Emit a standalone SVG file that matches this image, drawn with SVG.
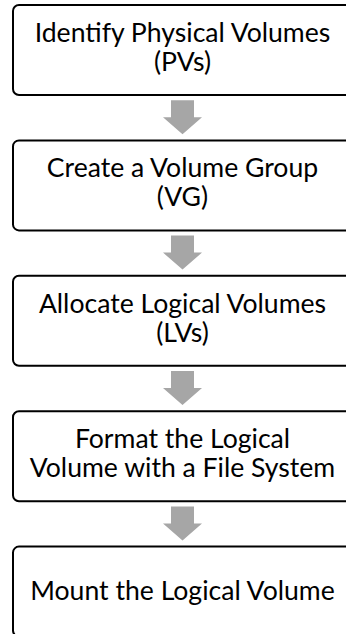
<svg xmlns="http://www.w3.org/2000/svg" width="346" height="634" viewBox="0 0 346 634">
  <style>
    .box { fill: #ffffff; stroke: #000000; stroke-width: 2; }
    .lbl { font-family: Lato, "Liberation Sans", sans-serif; font-size: 26.6px; fill: #000000; text-anchor: middle; }
    .arr { fill: #A6A6A6; stroke: none; }
  </style>
  <defs>
    <path id="downArrow" d="M171,0 H194 V17 H202 L182.5,34 L163,17 H171 Z"/>
  </defs>
  <rect x="0" y="0" width="346" height="634" fill="#ffffff"/>
  <g id="connectors">
    <use href="#downArrow" class="arr" transform="translate(0,100.2)"/>
    <use href="#downArrow" class="arr" transform="translate(0,235.6)"/>
    <use href="#downArrow" class="arr" transform="translate(0,371)"/>
    <use href="#downArrow" class="arr" transform="translate(0,506.4)"/>
  </g>
  <g id="node1">
    <rect class="box" x="13" y="5" width="339" height="90" rx="6"/>
    <text class="lbl" x="182.5" y="42">Identify Physical Volumes</text>
    <text class="lbl" x="182.5" y="71">(PVs)</text>
  </g>
  <g id="node2">
    <rect class="box" x="13" y="140.4" width="339" height="90" rx="6"/>
    <text class="lbl" x="182.5" y="177.4">Create a Volume Group</text>
    <text class="lbl" x="182.5" y="206.4">(VG)</text>
  </g>
  <g id="node3">
    <rect class="box" x="13" y="275.8" width="339" height="90" rx="6"/>
    <text class="lbl" x="182.5" y="312.8">Allocate Logical Volumes</text>
    <text class="lbl" x="182.5" y="341.8">(LVs)</text>
  </g>
  <g id="node4">
    <rect class="box" x="13" y="411.2" width="339" height="90" rx="6"/>
    <text class="lbl" x="182.5" y="448.2">Format the Logical</text>
    <text class="lbl" x="182.5" y="477.2">Volume with a File System</text>
  </g>
  <g id="node5">
    <rect class="box" x="13" y="546.6" width="339" height="90" rx="6"/>
    <text class="lbl" x="182.5" y="600">Mount the Logical Volume</text>
  </g>
</svg>
